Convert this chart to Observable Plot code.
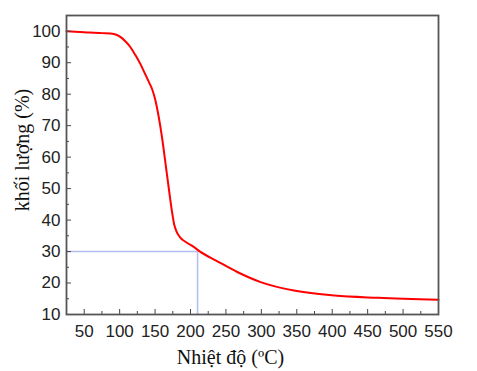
<!DOCTYPE html>
<html><head><meta charset="utf-8">
<script src="https://cdn.jsdelivr.net/npm/d3@7"></script>
<script src="https://cdn.jsdelivr.net/npm/@observablehq/plot@0.6"></script>
<style>body{margin:0;background:#fff}</style>
</head><body><div id="chart"></div>
<script>
const temperature = [25, 50, 75, 92, 101, 108, 115, 122, 129, 136, 141, 146, 150, 155, 160, 165, 170, 174, 177, 180, 185, 195, 205, 212, 238, 266, 299, 346, 403, 465, 550];
const mass = [100, 99.7, 99.4, 99.1, 98.2, 96.8, 95, 92.5, 89.7, 86.4, 84, 81.5, 78.5, 73, 66, 57.5, 49, 42.5, 38.6, 36.5, 34.6, 32.8, 31.4, 30.2, 26.9, 23.5, 20.3, 17.6, 16.0, 15.3, 14.7];
const xMajorTicks = [50, 100, 150, 200, 250, 300, 350, 400, 450, 500, 550];
const xMinorTicks = [75, 125, 175, 225, 275, 325, 375, 425, 475, 525];
const yMajorTicks = [10, 20, 30, 40, 50, 60, 70, 80, 90, 100];
const yMinorTicks = [15, 25, 35, 45, 55, 65, 75, 85, 95];
const xDomain = [25, 550];
const yDomain = [10, 105];
const markerTemperature = 210;
const markerMass = 30;
const xTitle = "Nhiệt độ (ºC)";
const yTitle = "khối lượng (%)";

const data = temperature.map((t, i) => ({t, m: mass[i]}));
const tickColor = "#444";
const serif = "'Liberation Serif', 'Times New Roman', serif";

const plot = Plot.plot({
  width: 477, height: 371,
  marginLeft: 66, marginRight: 39, marginTop: 15, marginBottom: 57,
  style: {fontFamily: "'Liberation Sans', Arial, sans-serif", background: "#fff", color: "#222"},
  x: {domain: xDomain},
  y: {domain: yDomain},
  marks: [
    Plot.ruleY([markerMass], {x1: xDomain[0], x2: markerTemperature, stroke: "#b3bdf2", strokeWidth: 1.6}),
    Plot.ruleX([markerTemperature], {y1: yDomain[0], y2: markerMass, stroke: "#b3bdf2", strokeWidth: 1.6}),
    Plot.line(data, {x: "t", y: "m", stroke: "#f00", strokeWidth: 2, curve: "monotone-x"}),
    Plot.axisX(xMajorTicks, {tickSize: 5, dy: -5, tickFormat: () => "", label: null, stroke: tickColor}),
    Plot.axisX(xMinorTicks, {tickSize: 3, dy: -3, tickFormat: () => "", label: null, stroke: tickColor}),
    Plot.axisY(yMajorTicks, {tickSize: 5, dx: 5, tickFormat: () => "", label: null, stroke: tickColor}),
    Plot.axisY(yMinorTicks, {tickSize: 3, dx: 3, tickFormat: () => "", label: null, stroke: tickColor}),
    Plot.axisX(xMajorTicks, {tickSize: 0, tickPadding: 10, fontSize: 17, label: null, fill: "#222"}),
    Plot.axisY(yMajorTicks, {tickSize: 0, tickPadding: 6, fontSize: 17, label: null, fill: "#222"}),
    Plot.frame({stroke: "#555", strokeWidth: 1.8}),
    Plot.text([xTitle], {text: d => d, frameAnchor: "bottom", textAnchor: "middle", lineAnchor: "middle", dx: -22, dy: 43, fontSize: 20, fontFamily: serif, fill: "#111"}),
    Plot.text([yTitle], {text: d => d, frameAnchor: "left", textAnchor: "middle", lineAnchor: "middle", dx: -44, dy: -15, rotate: -90, fontSize: 20, fontFamily: serif, fill: "#111"})
  ]
});
document.getElementById("chart").appendChild(plot);
</script>
</body></html>
